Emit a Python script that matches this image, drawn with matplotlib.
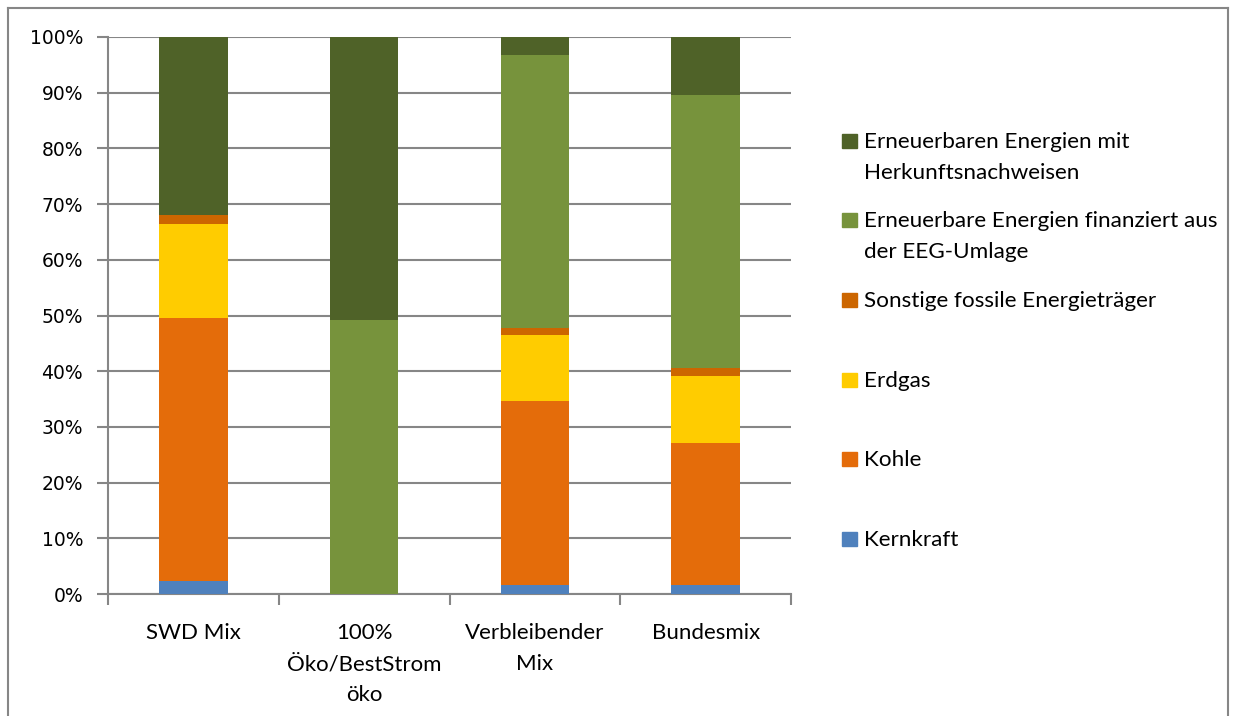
import matplotlib
matplotlib.use("Agg")
import matplotlib.pyplot as plt
from matplotlib.patches import Rectangle
from matplotlib.lines import Line2D
import numpy as np

# categories and values (percent), stacked bottom -> top
categories = ["SWD Mix", "100%\nÖko/BestStrom\nöko", "Verbleibender\nMix", "Bundesmix"]
kernkraft = [2.4, 0.0, 1.7, 1.6]
kohle = [47.1, 0.0, 33.0, 25.5]
erdgas = [16.9, 0.0, 11.8, 12.1]
sonstige = [1.7, 0.0, 1.2, 1.3]
eeg = [0.0, 49.2, 49.1, 49.1]
herkunft = [31.9, 50.8, 3.2, 10.4]

series_names = ["Kernkraft", "Kohle", "Erdgas", "Sonstige fossile Energieträger",
                "Erneuerbare Energien finanziert aus\nder EEG-Umlage",
                "Erneuerbaren Energien mit\nHerkunftsnachweisen"]
colors = ["#4F81BD", "#E46C0A", "#FFCC00", "#CC6600", "#77933C", "#4F6228"]

narrow = ["Lato", "DejaVu Sans"]

fig = plt.figure(figsize=(12.35, 7.16), dpi=100)
ax = fig.add_axes([108 / 1235, 1 - 594 / 716, (791 - 108) / 1235, (594 - 37) / 716])

x = np.arange(len(categories))
bottom = np.zeros(len(categories))
for vals, c in zip([kernkraft, kohle, erdgas, sonstige, eeg, herkunft], colors):
    ax.bar(x, vals, width=0.4, bottom=bottom, color=c, zorder=3)
    bottom += np.array(vals)

ax.set_xlim(-0.5, 3.5)
ax.set_ylim(0, 100)
ax.set_yticks(np.arange(0, 101, 10))
ax.set_yticklabels([f"{v}%" for v in range(0, 101, 10)], fontsize=13.5, family="DejaVu Sans")
ax.yaxis.grid(True, color="#868686", lw=1.5, zorder=0)
ax.tick_params(axis="y", length=8, color="#868686", width=1.5, pad=10)

ax.set_xticks(x)
ax.set_xticklabels(categories, fontsize=16, family=narrow, linespacing=1.68)
ax.set_xticks(np.arange(-0.5, 3.6, 1), minor=True)
ax.tick_params(axis="x", which="major", length=0, pad=21)
ax.tick_params(axis="x", which="minor", length=8, color="#868686", width=1.5)

for s in ["top", "right"]:
    ax.spines[s].set_visible(False)
for s in ["left", "bottom"]:
    ax.spines[s].set_color("#868686")
    ax.spines[s].set_linewidth(1.5)

# legend drawn by hand to follow the reference spacing
legend_y = [141, 220, 300, 380, 459, 539]
legend_order = list(range(5, -1, -1))
for yy, i in zip(legend_y, legend_order):
    fig.patches.append(Rectangle((842 / 1235, 1 - (yy + 7) / 716), 15 / 1235, 14 / 716,
                                 transform=fig.transFigure, color=colors[i]))
    fig.text(864 / 1235, 1 - (yy - 9) / 716, series_names[i], fontsize=16.2, family=narrow,
             va="top", ha="left", linespacing=1.68, transform=fig.transFigure)

# outer chart border
for xs, ys in [([8, 8], [716, 8]), ([8, 1228], [8, 8]), ([1228, 1228], [8, 716])]:
    fig.lines.append(Line2D([v / 1235 for v in xs], [1 - v / 716 for v in ys],
                            transform=fig.transFigure, color="#868686", lw=1.5))

fig.savefig("out.png", dpi=100)
